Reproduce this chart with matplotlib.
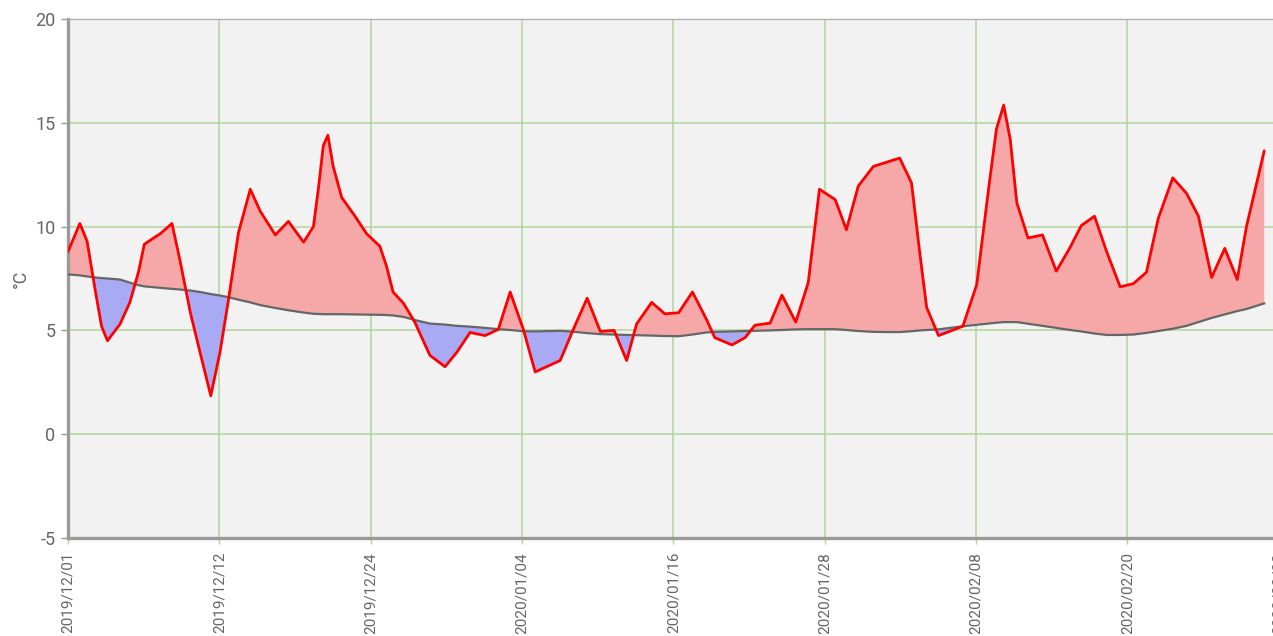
import numpy as np
import matplotlib
matplotlib.use("Agg")
import matplotlib.pyplot as plt

# -----------------------------
# Data (days since 2019/12/01)
# -----------------------------
days = [
    0.0, 0.9, 1.45, 2.05, 2.55, 3.0, 3.95, 4.7, 5.35, 5.8,
    6.5, 7.0, 7.9, 8.5, 9.3, 10.05, 10.85, 11.55, 12.2, 12.95,
    13.85, 14.6, 15.75, 16.75, 17.9, 18.65, 19.05, 19.4, 19.75, 20.15,
    20.8, 21.7, 22.7, 23.7, 24.2, 24.7, 25.5, 26.35, 27.5, 28.65,
    29.55, 30.55, 31.7, 32.7, 33.6, 34.6, 35.5, 37.4, 38.5, 39.45,
    40.45, 41.5, 42.45, 43.2, 44.35, 45.35, 46.4, 47.45, 48.5, 49.15,
    50.45, 51.45, 52.2, 53.35, 54.25, 55.3, 56.25, 57.1, 58.3, 59.15,
    60.05, 61.2, 62.2, 63.2, 64.1, 64.75, 65.25, 66.15, 68.0, 69.05,
    69.95, 70.55, 71.1, 71.6, 72.1, 72.95, 74.05, 75.1, 76.15, 77.0,
    78.0, 78.95, 79.95, 80.95, 81.95, 82.85, 83.95, 85.0, 85.9, 86.9,
    87.9, 88.85, 89.55, 90.9,
]

temperature = [
    8.8, 10.15, 9.3, 7.0, 5.2, 4.5, 5.3, 6.35, 7.8, 9.15,
    9.45, 9.65, 10.15, 8.4, 5.85, 3.9, 1.85, 3.95, 6.5, 9.7,
    11.8, 10.75, 9.6, 10.25, 9.25, 10.0, 11.95, 13.9, 14.4, 12.9,
    11.4, 10.6, 9.65, 9.05, 8.1, 6.85, 6.3, 5.4, 3.8, 3.25,
    3.95, 4.9, 4.75, 5.05, 6.85, 5.05, 3.0, 3.55, 5.2, 6.55,
    4.95, 5.0, 3.55, 5.3, 6.35, 5.8, 5.85, 6.85, 5.55, 4.65,
    4.3, 4.65, 5.25, 5.35, 6.7, 5.4, 7.3, 11.8, 11.3, 9.85,
    11.95, 12.9, 13.1, 13.3, 12.1, 8.6, 6.1, 4.75, 5.2, 7.2,
    11.8, 14.7, 15.85, 14.2, 11.15, 9.45, 9.6, 7.85, 9.0, 10.05,
    10.5, 8.75, 7.1, 7.25, 7.8, 10.4, 12.35, 11.6, 10.5, 7.55,
    8.95, 7.45, 10.0, 13.65,
]

normal = [
    7.7, 7.65, 7.6, 7.55, 7.52, 7.5, 7.45, 7.3, 7.18, 7.12,
    7.08, 7.05, 7.0, 6.97, 6.92, 6.85, 6.75, 6.68, 6.6, 6.48,
    6.35, 6.22, 6.08, 5.97, 5.86, 5.8, 5.79, 5.78, 5.78, 5.78,
    5.78, 5.77, 5.76, 5.75, 5.74, 5.72, 5.65, 5.5, 5.33, 5.28,
    5.22, 5.18, 5.12, 5.06, 5.02, 4.96, 4.95, 4.98, 4.93, 4.87,
    4.82, 4.8, 4.78, 4.77, 4.75, 4.73, 4.72, 4.8, 4.9, 4.93,
    4.95, 4.97, 4.98, 5.0, 5.02, 5.05, 5.06, 5.06, 5.06, 5.02,
    4.97, 4.93, 4.92, 4.92, 4.96, 5.0, 5.02, 5.05, 5.2, 5.27,
    5.33, 5.37, 5.4, 5.4, 5.4, 5.32, 5.22, 5.12, 5.02, 4.95,
    4.85, 4.78, 4.78, 4.8, 4.88, 4.97, 5.08, 5.22, 5.4, 5.6,
    5.77, 5.93, 6.03, 6.3,
]

tick_labels = [
    "2019/12/01", "2019/12/12", "2019/12/24", "2020/01/04", "2020/01/16",
    "2020/01/28", "2020/02/08", "2020/02/20", "2020/03/02",
]
y_ticks = [-5, 0, 5, 10, 15, 20]

# -----------------------------
# Figure
# -----------------------------
plt.rcParams["font.family"] = ["Roboto", "DejaVu Sans"]
plt.rcParams["axes.unicode_minus"] = False

fig = plt.figure(figsize=(12.73, 6.36), dpi=100)
ax = fig.add_axes([68 / 1273, 98 / 636, 1210.7 / 1273, 519 / 636])
ax.set_facecolor("#f2f2f2")

x = np.array(days)
t = np.array(temperature)
n = np.array(normal)

ax.fill_between(x, t, n, where=t >= n, interpolate=True,
                color="#f6a8a8", linewidth=0, zorder=2)
ax.fill_between(x, t, n, where=t < n, interpolate=True,
                color="#a9aaf4", linewidth=0, zorder=2)
ax.plot(x, n, color="#666666", linewidth=1.6, zorder=3,
        solid_joinstyle="round")
ax.plot(x, t, color="#ff0000", linewidth=2.0, zorder=4,
        solid_joinstyle="round", solid_capstyle="round")

# -----------------------------
# Axes formatting
# -----------------------------
ax.set_xlim(0, 92)
ax.set_ylim(-5, 20)
ax.set_xticks(np.arange(len(tick_labels)) * 11.5)
ax.set_xticklabels(tick_labels, rotation=90, va="top", ha="center")
ax.set_yticks(y_ticks)

ax.grid(True, color="#b2d59b", linewidth=1.1, zorder=1)
ax.set_axisbelow(True)

for side in ["left", "bottom"]:
    ax.spines[side].set_color("#9a9a9a")
    ax.spines[side].set_linewidth(2.4)
ax.spines["top"].set_color("#b0b0b0")
ax.spines["top"].set_linewidth(1.0)
ax.spines["right"].set_visible(False)

ax.tick_params(axis="y", colors="#9a9a9a", labelcolor="#666666",
               labelsize=13, length=5, width=1, pad=4)
ax.tick_params(axis="x", colors="#b2d59b", labelcolor="#666666",
               labelsize=11, length=4, width=1, pad=6)

ax.set_ylabel("°C", fontsize=13, color="#666666", labelpad=4)

fig.savefig("out.png", dpi=100)
